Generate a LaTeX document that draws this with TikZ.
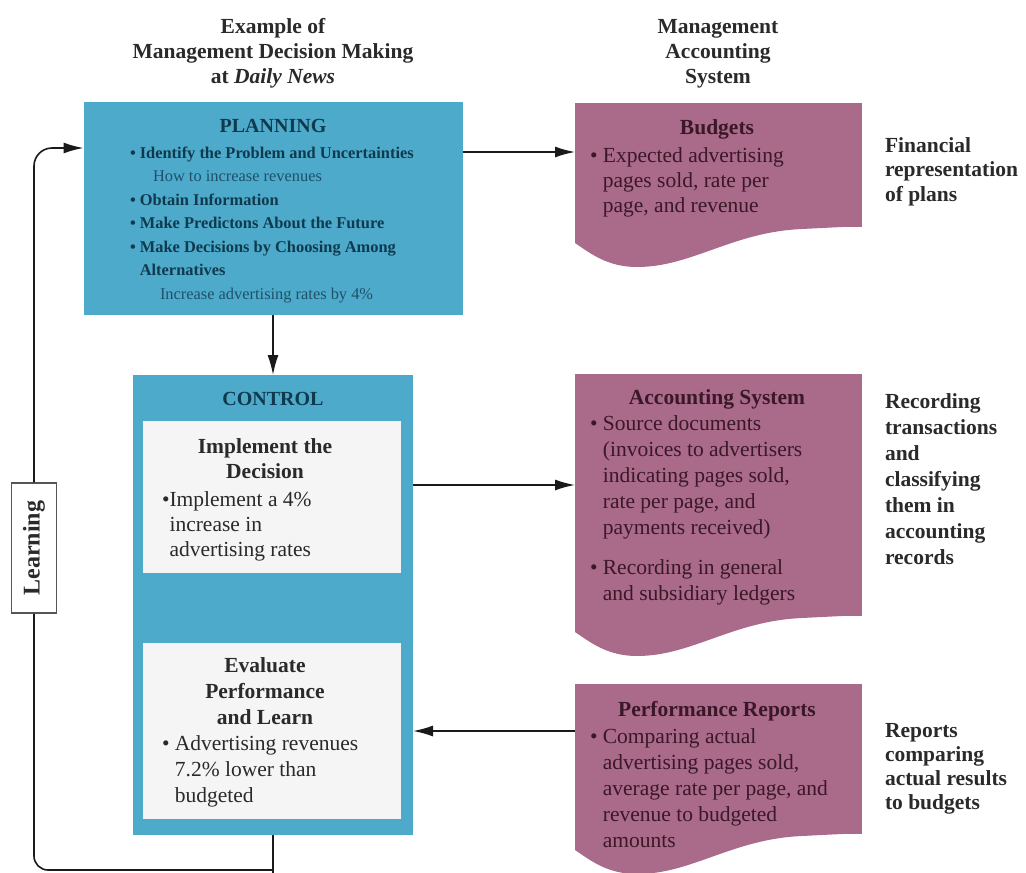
\documentclass[tikz,border=0pt]{standalone}
\usepackage{fontspec}
\setmainfont{Liberation Serif}
\usetikzlibrary{arrows.meta,calc}
\definecolor{bluefill}{HTML}{4DAACB}
\definecolor{pinkfill}{HTML}{AA6A8A}
\definecolor{whitefill}{HTML}{F5F5F5}
\definecolor{navytext}{HTML}{0F3A4D}
\definecolor{navysub}{HTML}{1E5169}
\definecolor{pinktext}{HTML}{3A1828}
\definecolor{darktext}{HTML}{2A2A2A}
\definecolor{linecol}{HTML}{1A1A1A}
\definecolor{learnborder}{HTML}{555555}
\newcommand\LeftLines[2]{\vtop{\baselineskip=#1\lineskiplimit=-100pt\relax\halign{##\hfil\cr#2\crcr}}}
\newcommand\MidLines[2]{\vtop{\baselineskip=#1\lineskiplimit=-100pt\relax\halign{\hfil##\hfil\cr#2\crcr}}}
\newcommand\wavebottom[1]{%
  \fill[pinkfill] ($(#1.south east)+(0,-1)$) -- ($(#1.south east)+(-60,2)$)
    .. controls ($(#1.south east)+(-130,5)$) and ($(#1.south east)+(-170,40)$) .. ($(#1.south east)+(-225,40)$)
    .. controls ($(#1.south east)+(-255,40)$) and ($(#1.south east)+(-272,26)$) .. ($(#1.south west)+(0,16)$)
    -- ($(#1.south west)+(0,-1)$) -- cycle;}
\tikzset{
  box/.style={inner sep=0pt, outer sep=0pt},
  bluebox/.style={box, fill=bluefill},
  whitebox/.style={box, fill=whitefill},
  pinkbox/.style={box, fill=pinkfill},
  txt/.style={inner sep=0pt, outer sep=0pt, anchor=base west},
  ctxt/.style={inner sep=0pt, outer sep=0pt, anchor=base},
  bodyfont/.style={font=\fontsize{21.5}{26}\selectfont},
  boldfont/.style={font=\bfseries\fontsize{21.5}{26}\selectfont},
  headfont/.style={font=\bfseries\fontsize{20}{24}\selectfont, text=navytext},
  arr/.style={draw=linecol, line width=1.6pt, -{Latex[length=20pt,width=11pt]}},
  conn/.style={draw=linecol, line width=1.6pt},
}
\begin{document}
\begin{tikzpicture}[x=1pt,y=-1pt]
\useasboundingbox[fill=white] (0,0) rectangle (1026,873);

% column titles
\node[ctxt, boldfont, text=darktext] (ltitle) at (273,33)
  {\MidLines{25pt}{Example of\cr Management Decision Making\cr at \textit{Daily News}}};
\node[ctxt, boldfont, text=darktext] (rtitle) at (718,33)
  {\MidLines{25pt}{Management\cr Accounting\cr System}};

% main boxes
\node[bluebox, minimum width=379pt, minimum height=213pt] (plan) at (273,208.5) {};
\node[bluebox, minimum width=280pt, minimum height=460pt] (control) at (273,605) {};
\node[whitebox, minimum width=258pt, minimum height=152pt] (impl) at (272,497) {};
\node[whitebox, minimum width=258pt, minimum height=176pt] (eval) at (272,731) {};

\node[pinkbox, minimum width=287pt, minimum height=124pt] (budget) at (718.5,165) {};
\wavebottom{budget}
\node[pinkbox, minimum width=287pt, minimum height=242pt] (acct) at (718.5,495) {};
\wavebottom{acct}
\node[pinkbox, minimum width=287pt, minimum height=150pt] (perf) at (718.5,759) {};
\wavebottom{perf}

% planning text
\node[ctxt, headfont] (plantitle) at (273,132) {PLANNING};
\node[txt, font=\bfseries\fontsize{16.4}{23.5}\selectfont, text=navytext] (planitems) at (130,158)
  {\LeftLines{23.5pt}{• Identify the Problem and Uncertainties\cr
   \hspace*{23pt}{\mdseries\color{navysub}How to increase revenues}\cr
   • Obtain Information\cr
   • Make Predictons About the Future\cr
   • Make Decisions by Choosing Among\cr
   \hphantom{• }Alternatives\cr
   \hspace*{30pt}{\mdseries\color{navysub}Increase advertising rates by 4\%}}};

% control text
\node[ctxt, headfont] (controltitle) at (273,405) {CONTROL};
\node[ctxt, boldfont, text=darktext] (impltitle) at (265,453)
  {\MidLines{25.5pt}{Implement the\cr Decision}};
\node[txt, bodyfont, text=darktext] (impltext) at (162,506)
  {\LeftLines{25pt}{•Implement a 4\%\cr \hphantom{•}increase in\cr \hphantom{•}advertising rates}};
\node[ctxt, boldfont, text=darktext] (evaltitle) at (265,672)
  {\MidLines{26pt}{Evaluate\cr Performance\cr and Learn}};
\node[txt, bodyfont, text=darktext] (evaltext) at (162,750)
  {\LeftLines{26pt}{• Advertising revenues\cr \hphantom{• }7.2\% lower than\cr \hphantom{• }budgeted}};

% pink texts
\node[ctxt, boldfont, text=pinktext] (budgettitle) at (717,134) {Budgets};
\node[txt, bodyfont, text=pinktext] (budgettext) at (590,162)
  {\LeftLines{25pt}{• Expected advertising\cr \hphantom{• }pages sold, rate per\cr \hphantom{• }page, and revenue}};
\node[ctxt, boldfont, text=pinktext] (accttitle) at (717,404) {Accounting System};
\node[txt, bodyfont, text=pinktext] (accttext) at (590,430)
  {\LeftLines{26pt}{• Source documents\cr \hphantom{• }(invoices to advertisers\cr
   \hphantom{• }indicating pages sold,\cr \hphantom{• }rate per page, and\cr
   \hphantom{• }payments received)\cr\noalign{\vskip 14pt}
   • Recording in general\cr \hphantom{• }and subsidiary ledgers}};
\node[ctxt, boldfont, text=pinktext] (perftitle) at (717,716) {Performance Reports};
\node[txt, bodyfont, text=pinktext] (perftext) at (590,743)
  {\LeftLines{26pt}{• Comparing actual\cr \hphantom{• }advertising pages sold,\cr
   \hphantom{• }average rate per page, and\cr \hphantom{• }revenue to budgeted\cr \hphantom{• }amounts}};

% right labels
\node[txt, boldfont, text=darktext] (lab1) at (885,152)
  {\LeftLines{24.5pt}{Financial\cr representation\cr of plans}};
\node[txt, boldfont, text=darktext] (lab2) at (885,408)
  {\LeftLines{26pt}{Recording\cr transactions\cr and\cr classifying\cr them in\cr accounting\cr records}};
\node[txt, boldfont, text=darktext] (lab3) at (885,737)
  {\LeftLines{24pt}{Reports\cr comparing\cr actual results\cr to budgets}};

% connectors
\coordinate (p1) at ([yshift=-50pt]plan.north east);
\draw[arr] (p1) -- (p1 -| budget.west);
\draw[arr] (plan.south) -- (control.north);
\coordinate (p2) at ([yshift=-110pt]control.north east);
\draw[arr] (p2) -- (p2 -| acct.west);
\draw[arr] (eval.east -| perf.west) -- (eval.east -| control.east);

% learning loop (node rotated: its west anchor is at the bottom, east at the top)
\node[draw=learnborder, fill=white, line width=1.5pt, rotate=90, minimum width=130pt,
      minimum height=45pt, inner sep=0pt, font=\bfseries\fontsize{24}{28}\selectfont, text=darktext]
      (learn) at (34,548) {Learning};
\coordinate (loopbl) at (34,870);
\coordinate (loopbr) at (control.south |- loopbl);
\coordinate (p0) at ([yshift=-46pt]plan.north west);
\draw[conn] (control.south) -- ([yshift=-4pt]loopbr);
\draw[conn, rounded corners=14pt] (loopbr) -- (loopbl) -- (learn.west);
\draw[arr, rounded corners=18pt] (learn.east) |- (p0);
\end{tikzpicture}
\end{document}
